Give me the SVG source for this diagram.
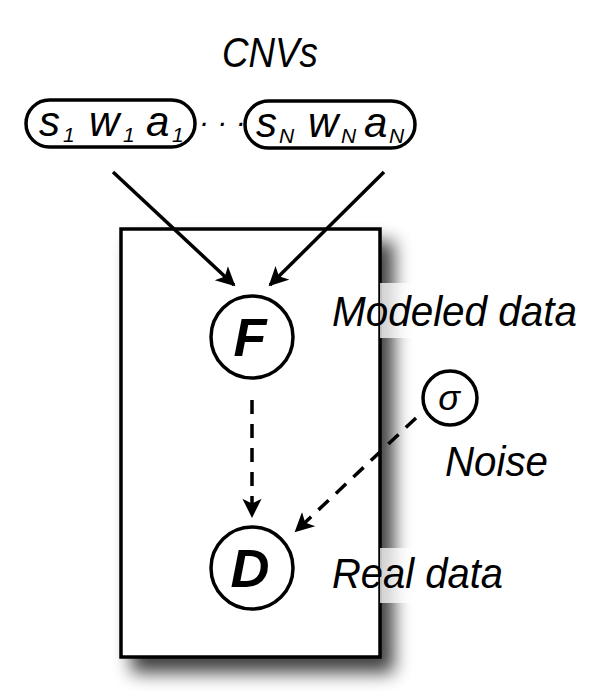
<svg xmlns="http://www.w3.org/2000/svg" width="600" height="697" viewBox="0 0 600 697">
<style>
.t{font-family:"Liberation Sans",Arial,sans-serif;font-style:italic;fill:#000}
.v{font-size:42px}
.s{font-size:21px}
.n{fill:#fff;stroke:#000;stroke-width:3.5}
.e{stroke:#000;stroke-width:3.5;fill:none}
.d{stroke-dasharray:14,10}
</style>
<defs>
<filter id="sh" x="-20%" y="-20%" width="150%" height="140%">
<feGaussianBlur in="SourceAlpha" stdDeviation="9"/>
<feOffset dx="12" dy="14"/>
<feComponentTransfer><feFuncA type="linear" slope="0.75"/></feComponentTransfer>
<feMerge><feMergeNode/><feMergeNode in="SourceGraphic"/></feMerge>
</filter>
<marker id="a" viewBox="0 0 10 10" refX="9" refY="5" markerWidth="6" markerHeight="5.5" markerUnits="strokeWidth" orient="auto"><path d="M0,0 L10,5 L0,10 L2.5,5 z" fill="#000"/></marker>
</defs>
<rect width="600" height="697" fill="#fff"/>
<g id="plate"><rect x="121" y="229" width="259" height="428" fill="#fff" stroke="#000" stroke-width="3.5" filter="url(#sh)"/></g>
<g id="labels-bg" fill="#fff" opacity="0.75">
<rect x="380" y="283" width="200" height="55"/>
<rect x="380" y="548" width="160" height="55"/>
</g>
<text class="t" x="222" y="67" font-size="42" textLength="96" lengthAdjust="spacingAndGlyphs">CNVs</text>
<g id="cnv1"><rect class="n" x="26" y="100" width="169" height="47" rx="23.5"/>
<text class="t v" x="39" y="136">s</text><text class="t s" x="63" y="142">1</text>
<text class="t v" x="89" y="136">w</text><text class="t s" x="123" y="142">1</text>
<text class="t v" x="146" y="136">a</text><text class="t s" x="172" y="142">1</text></g>
<text class="t" x="199" y="132" font-size="30" font-style="normal">· · ·</text>
<g id="cnvN"><rect class="n" x="245" y="101" width="170" height="47" rx="23.5"/>
<text class="t v" x="256" y="137">s</text><text class="t s" x="279" y="143">N</text>
<text class="t v" x="308" y="137">w</text><text class="t s" x="341" y="143">N</text>
<text class="t v" x="364" y="137">a</text><text class="t s" x="389" y="143">N</text></g>
<g id="connectors">
<line class="e" x1="113" y1="172" x2="234" y2="285" marker-end="url(#a)"/>
<line class="e" x1="384" y1="172" x2="270" y2="285" marker-end="url(#a)"/>
<line class="e d" x1="252" y1="400" x2="252" y2="516" marker-end="url(#a)"/>
<line class="e d" x1="416" y1="418" x2="296" y2="531" marker-end="url(#a)"/>
</g>
<g id="F"><circle class="n" cx="252" cy="337" r="41"/><text class="t" x="250" y="356" font-size="54" font-weight="bold" text-anchor="middle">F</text></g>
<g id="D"><circle class="n" cx="252" cy="568" r="41"/><text class="t" x="250" y="587" font-size="54" font-weight="bold" text-anchor="middle">D</text></g>
<g id="sigma"><circle class="n" cx="450" cy="398" r="27"/><text class="t" x="449" y="410" font-size="36" font-style="normal" text-anchor="middle">σ</text></g>
<text class="t" x="332" y="326" font-size="42" textLength="245" lengthAdjust="spacingAndGlyphs">Modeled data</text>
<text class="t" x="445" y="476" font-size="42" textLength="103" lengthAdjust="spacingAndGlyphs">Noise</text>
<text class="t" x="332" y="588" font-size="42" textLength="171" lengthAdjust="spacingAndGlyphs">Real data</text>
</svg>
